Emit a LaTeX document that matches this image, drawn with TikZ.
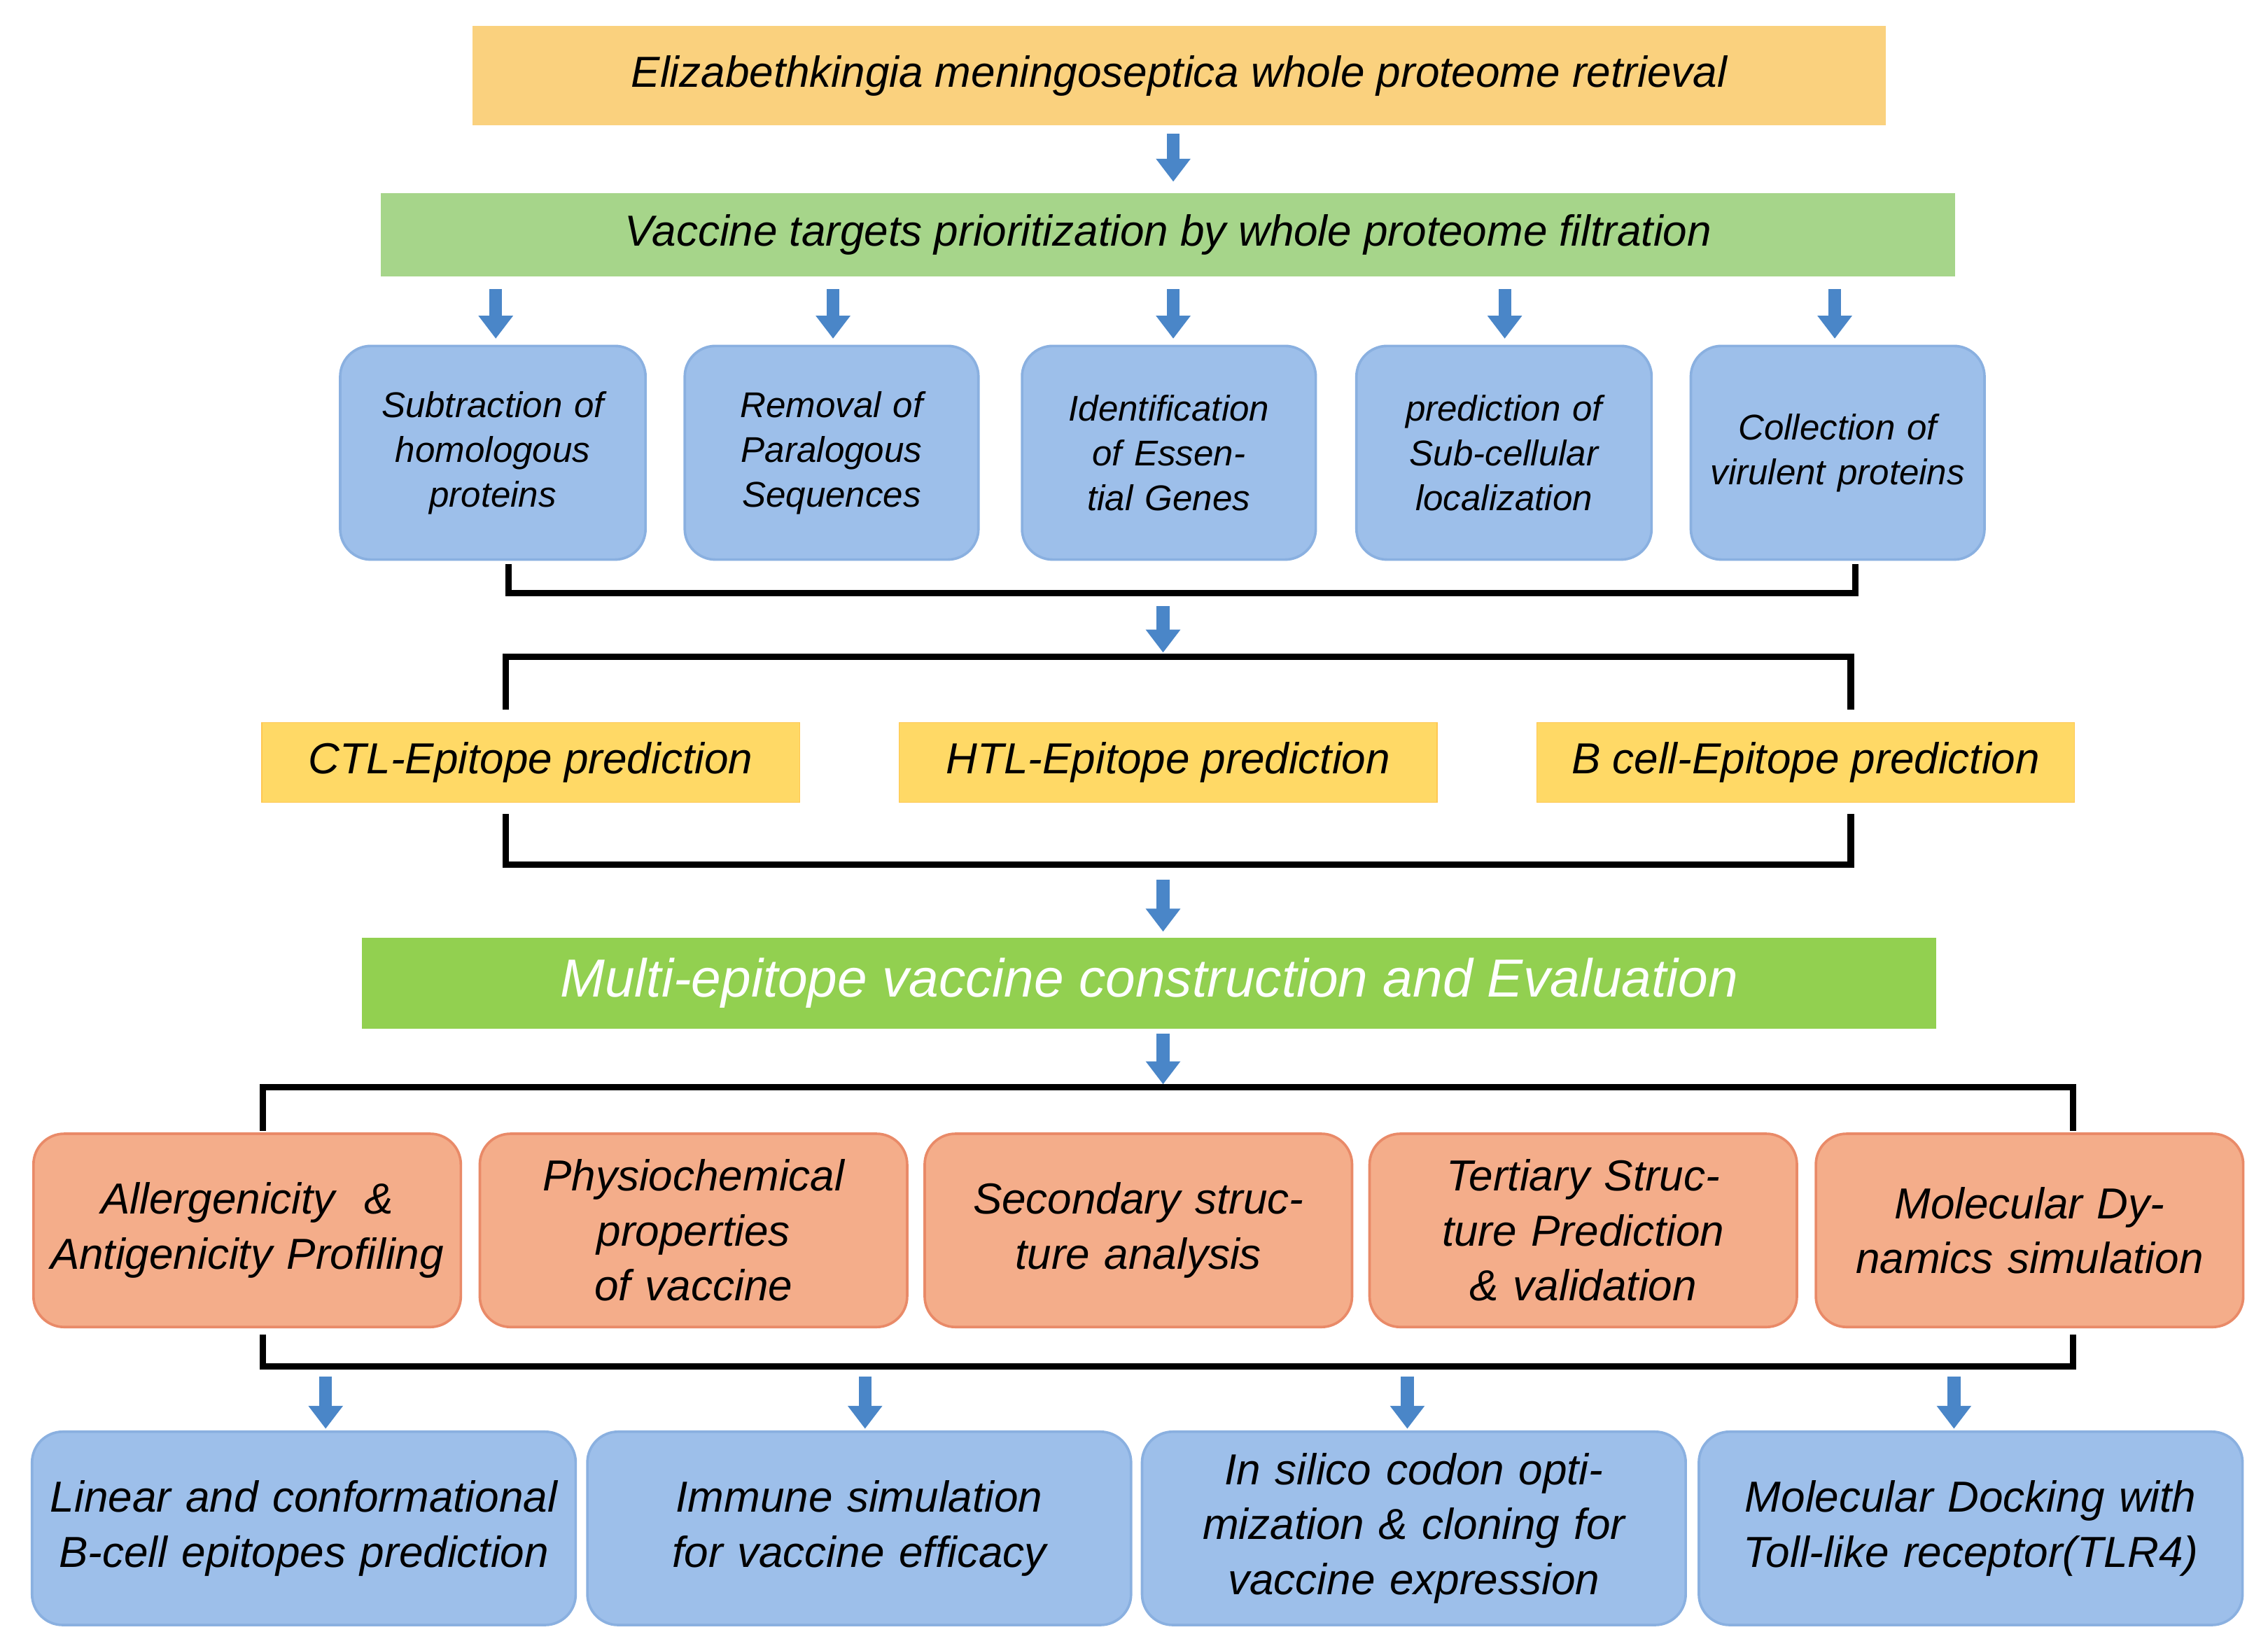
\documentclass[tikz,border=0pt]{standalone}
\usepackage{fontspec}
\setmainfont{Liberation Sans}
\usetikzlibrary{arrows.meta}
\definecolor{topor}{HTML}{FAD17E}
\definecolor{lgreen}{HTML}{A6D58A}
\definecolor{dgreen}{HTML}{92D050}
\definecolor{bfill}{HTML}{9DBFEA}
\definecolor{bdraw}{HTML}{8AB0E0}
\definecolor{yfill}{HTML}{FFD966}
\definecolor{ofill}{HTML}{F4AD8A}
\definecolor{odraw}{HTML}{E98A68}
\definecolor{arr}{HTML}{4A86C8}
\begin{document}
\begin{tikzpicture}[x=0.02cm,y=-0.02cm,
 box/.style={draw,minimum width=#1*0.02cm,inner sep=0pt,font=\itshape},
 bbox/.style={draw=bdraw,fill=bfill,rounded corners=12pt,line width=1pt,minimum height=2.94cm,text width=(#1-24)*0.02cm,align=center,font=\itshape\fontsize{14}{17.5}\selectfont,minimum width=#1*0.02cm},
 obox/.style={draw=odraw,fill=ofill,rounded corners=12pt,line width=1pt,minimum height=2.66cm,minimum width=5.88cm,text width=5.5cm,align=center,font=\itshape\fontsize{17}{21.5}\selectfont},
 lbox/.style={draw=bdraw,fill=bfill,rounded corners=12pt,line width=1pt,minimum height=2.66cm,minimum width=7.48cm,text width=7cm,align=center,font=\itshape\fontsize{17}{21.5}\selectfont},
 ybox/.style={draw=yfill!80!orange,fill=yfill,minimum height=1.1cm,minimum width=7.4cm,font=\itshape\fontsize{17}{20}\selectfont},
 dn/.style={arr,line width=5pt,-{Triangle[width=13pt,length=9pt]}},
 br/.style={line width=2.5pt}]
\useasboundingbox (0,0) rectangle (1560,1132.4);
\node[draw=none,fill=topor,minimum width=19.44cm,minimum height=1.36cm,font=\itshape\fontsize{17}{20}\selectfont] (top) at (811,52) {Elizabethkingia meningoseptica whole proteome retrieval};
\node[fill=lgreen,minimum width=21.66cm,minimum height=1.14cm,font=\itshape\fontsize{17}{20}\selectfont] (vac) at (803.5,161.5) {Vaccine targets prioritization by whole proteome filtration};
\coordinate (a0s) at (807,92); \coordinate (a0e) at (807,125);
\draw[dn] (a0s) -- (a0e);
\foreach \x/\w/\c/\t [count=\i] in {339/210/341/{Subtraction of homologous proteins},572/202/573/{Removal of Paralogous Sequences},804/202/807/{Identification of Essential Genes},1034.5/203/1035/{prediction of Sub-cellular localization},1264/202/1262/{Collection of virulent proteins}}{
 \coordinate (s\i) at (\c,199); \coordinate (e\i) at (\c,233);
 \draw[dn] (s\i) -- (e\i);
 \node[bbox=\w] (f\i) at (\x,311.5) {\t};
}
\coordinate (b1) at (350,388); \coordinate (b2) at (350,408); \coordinate (b3) at (1276,408); \coordinate (b4) at (1276,388);
\draw[br] (b1) -- (b2) -- (b3) -- (b4);
\coordinate (a1s) at (800,417); \coordinate (a1e) at (800,449);
\draw[dn] (a1s) -- (a1e);
\coordinate (c1) at (348,488); \coordinate (c2) at (348,452); \coordinate (c3) at (1273,452); \coordinate (c4) at (1273,488);
\draw[br] (c1) -- (c2) -- (c3) -- (c4);
\node[ybox] (y1) at (365,524.5) {CTL-Epitope prediction};
\node[ybox] (y2) at (803.5,524.5) {HTL-Epitope prediction};
\node[ybox] (y3) at (1242,524.5) {B cell-Epitope prediction};
\coordinate (d1) at (348,560); \coordinate (d2) at (348,595); \coordinate (d3) at (1273,595); \coordinate (d4) at (1273,560);
\draw[br] (d1) -- (d2) -- (d3) -- (d4);
\coordinate (a2s) at (800,605); \coordinate (a2e) at (800,641);
\draw[dn] (a2s) -- (a2e);
\node[fill=dgreen,minimum width=21.66cm,minimum height=1.26cm,text=white,font=\itshape\fontsize{21}{24}\selectfont] (mult) at (790.5,676.5) {Multi-epitope vaccine construction and Evaluation};
\coordinate (a3s) at (800,711); \coordinate (a3e) at (800,746);
\draw[dn] (a3s) -- (a3e);
\coordinate (g1) at (181,778); \coordinate (g2) at (181,748); \coordinate (g3) at (1426,748); \coordinate (g4) at (1426,778);
\draw[br] (g1) -- (g2) -- (g3) -- (g4);
\foreach \x/\t [count=\i] in {170/{Allergenicity \ \& Antigenicity Profiling},477/{Physiochemical properties of vaccine},783/{Secondary structure analysis},1089/{Tertiary Structure Prediction \& validation},1396/{Molecular Dynamics simulation}}{
 \node[obox] (o\i) at (\x,846.5) {\t};
}
\coordinate (h1) at (181,918); \coordinate (h2) at (181,940); \coordinate (h3) at (1426,940); \coordinate (h4) at (1426,918);
\draw[br] (h1) -- (h2) -- (h3) -- (h4);
\foreach \x/\c/\t [count=\i] in {209/224/{Linear and conformational B-cell epitopes prediction},591/595/{Immune simulation for vaccine efficacy},972.5/968/{In silico codon optimization \& cloning for vaccine expression},1355.5/1344/{Molecular Docking with Toll-like receptor(TLR4)}}{
 \coordinate (t\i) at (\c,947); \coordinate (u\i) at (\c,983);
 \draw[dn] (t\i) -- (u\i);
 \node[lbox] (l\i) at (\x,1051.5) {\t};
}
\end{tikzpicture}
\end{document}
